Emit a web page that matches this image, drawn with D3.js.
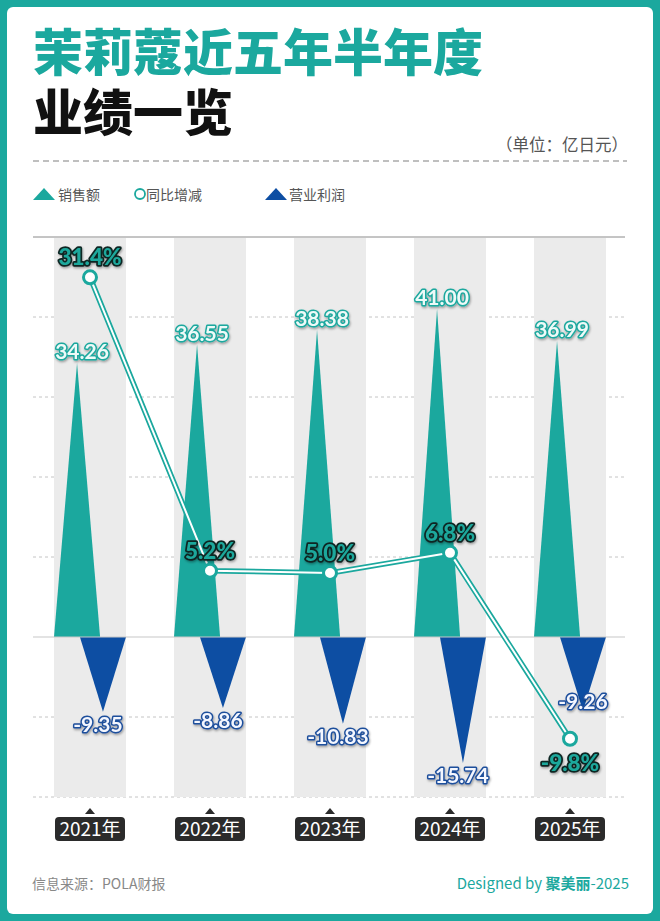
<!DOCTYPE html>
<html><head><meta charset="utf-8">
<script src="https://cdn.jsdelivr.net/npm/d3@7"></script>
<style>body{margin:0;background:#fff}</style>
</head><body><svg id="c" width="660" height="921"></svg>
<script>
const years = ["2021年","2022年","2023年","2024年","2025年"];
const sales = [34.26, 36.55, 38.38, 41.00, 36.99];
const profit = [-9.35, -8.86, -10.83, -15.74, -9.26];
const yoy = [31.4, 5.2, 5.0, 6.8, -9.8];
const valueTicks = [-20, -10, 0, 10, 20, 30, 40, 50];
const legendItems = ["销售额", "同比增减", "营业利润"];

const TEAL = "#1ba89e", BLUE = "#0d4ea3", CJK = "'Noto Sans CJK SC','Noto Sans',sans-serif", NUM = "Lato,'Open Sans',sans-serif";
const TITLE = "'Liberation Sans','Noto Sans CJK SC',sans-serif";
const svg = d3.select("#c");
const defs = svg.append("defs");
const f = defs.append("filter").attr("id","sh").attr("x","-20%").attr("y","-30%").attr("width","140%").attr("height","170%");
f.append("feDropShadow").attr("dx",0.8).attr("dy",1.5).attr("stdDeviation",0.9).attr("flood-color","#000").attr("flood-opacity",0.35);

// frame
svg.append("rect").attr("width",660).attr("height",921).attr("fill",TEAL);
svg.append("rect").attr("x",7).attr("y",7).attr("width",646).attr("height",907).attr("rx",6).attr("fill","#fff");

// titles
svg.append("text").attr("x",33).attr("y",71).text("茉莉蔻近五年半年度")
  .attr("font-family",TITLE).attr("font-weight",900).attr("font-size",50).attr("fill",TEAL);
svg.append("text").attr("x",33).attr("y",131).text("业绩一览")
  .attr("font-family",TITLE).attr("font-weight",900).attr("font-size",50).attr("fill","#111");
svg.append("text").attr("x",628).attr("y",151).attr("text-anchor","end").text("（单位：亿日元）")
  .attr("font-family",CJK).attr("font-size",16.5).attr("fill","#555");
svg.append("line").attr("x1",33).attr("x2",627).attr("y1",161).attr("y2",161)
  .attr("stroke","#aaa").attr("stroke-width",1.5).attr("stroke-dasharray","6,4");

// legend
const lg = svg.append("g").attr("font-family",CJK).attr("font-size",14).attr("fill","#555");
lg.append("path").attr("d","M33,200 L44,188 L55,200 Z").attr("fill",TEAL);
lg.append("text").attr("x",58).attr("y",200).text(legendItems[0]);
lg.append("circle").attr("cx",140).attr("cy",194).attr("r",5).attr("fill","#fff").attr("stroke",TEAL).attr("stroke-width",1.8);
lg.append("text").attr("x",146).attr("y",200).text(legendItems[1]);
lg.append("path").attr("d","M265,200 L276,188 L287,200 Z").attr("fill",BLUE);
lg.append("text").attr("x",289).attr("y",200).text(legendItems[2]);

// scales
const x = d3.scaleBand().domain(years).range([30,630]).paddingInner(0.4).paddingOuter(0.2);
const y = d3.scaleLinear().domain([-20,50]).range([797,237]);
const yp = d3.scaleLinear().domain([-15,35]).range([797,237]);
const bw = x.bandwidth(), tw = bw*0.64;

// grid
const g = svg.append("g");
g.selectAll("line.grid").data(valueTicks.filter(t=>t!==0)).join("line")
  .attr("x1",33).attr("x2",625).attr("y1",d=>y(d)).attr("y2",d=>y(d))
  .attr("stroke",d=>d===50?"#8a8a8a":"#c4c4c4").attr("stroke-width",1)
  .attr("stroke-dasharray",d=>d===50?null:"3,3");

// bands
g.selectAll("rect.band").data(years).join("rect")
  .attr("x",d=>x(d)).attr("width",bw).attr("y",y(50)+1).attr("height",y(-20)-y(50)-1).attr("fill","#ebebeb");

// sales triangles
g.selectAll("path.sales").data(sales).join("path")
  .attr("d",(d,i)=>{const x0=x(years[i]);return `M${x0},${y(0)} L${x0+tw/2},${y(d)} L${x0+tw},${y(0)} Z`;})
  .attr("fill",TEAL);
// profit triangles
g.selectAll("path.profit").data(profit).join("path")
  .attr("d",(d,i)=>{const x1=x(years[i])+bw;return `M${x1-tw},${y(0)} L${x1-tw/2},${y(d)} L${x1},${y(0)} Z`;})
  .attr("fill",BLUE);
// zero line
g.append("line").attr("x1",33).attr("x2",625).attr("y1",y(0)).attr("y2",y(0)).attr("stroke","#c8c8c8").attr("stroke-width",1.2);

// sales labels
g.selectAll("text.sl").data(sales).join("text")
  .attr("x",(d,i)=>x(years[i])+tw/2+5).attr("y",d=>y(d)-4).attr("text-anchor","middle")
  .text(d=>d.toFixed(2)).attr("font-family",NUM).attr("font-weight",700).attr("font-size",21)
  .attr("fill","#eefaf8").attr("stroke",TEAL).attr("stroke-width",3).attr("paint-order","stroke")
  .attr("stroke-linejoin","round").attr("filter","url(#sh)");

// profit labels
g.selectAll("text.pl").data(profit).join("text")
  .attr("x",(d,i)=>{const c=x(years[i])+bw-tw/2;return yoy[i]<0?c:c-5;})
  .attr("y",(d,i)=>yoy[i]<0?y(d)-2:y(d)+20).attr("text-anchor","middle")
  .text(d=>d.toFixed(2)).attr("font-family",NUM).attr("font-weight",700).attr("font-size",21)
  .attr("fill","#f4f7ff").attr("stroke","#1f4f9c").attr("stroke-width",3).attr("paint-order","stroke")
  .attr("stroke-linejoin","round").attr("filter","url(#sh)");

// yoy line
const line = d3.line().x((d,i)=>x(years[i])+bw/2).y(d=>yp(d));
g.append("path").datum(yoy).attr("d",line).attr("fill","none").attr("stroke",TEAL).attr("stroke-width",5.5).attr("stroke-linejoin","round");
g.append("path").datum(yoy).attr("d",line).attr("fill","none").attr("stroke","#fff").attr("stroke-width",2).attr("stroke-linejoin","round");
g.selectAll("circle.pt").data(yoy).join("circle")
  .attr("cx",(d,i)=>x(years[i])+bw/2).attr("cy",d=>yp(d)).attr("r",6.5)
  .attr("fill","#fff").attr("stroke",TEAL).attr("stroke-width",3);
g.selectAll("text.pct").data(yoy).join("text")
  .attr("x",(d,i)=>x(years[i])+bw/2).attr("y",d=>d<0?yp(d)+32:yp(d)-12).attr("text-anchor","middle")
  .text(d=>d.toFixed(1)+"%").attr("font-family",NUM).attr("font-weight",900).attr("font-size",22.5)
  .attr("fill","#1fa89c").attr("stroke","#0f2624").attr("stroke-width",3.5).attr("paint-order","stroke")
  .attr("stroke-linejoin","round").attr("filter","url(#sh)");

// x axis labels
const ax = svg.append("g");
years.forEach(yr=>{
  const c = x(yr)+bw/2;
  ax.append("path").attr("d",`M${c-5},814 L${c},808 L${c+5},814 Z`).attr("fill","#2b2b2b");
  ax.append("rect").attr("x",x(yr)+1).attr("y",817).attr("width",bw-2).attr("height",24).attr("rx",4).attr("fill","#2b2b2b");
  ax.append("text").attr("x",c).attr("y",836).attr("text-anchor","middle").text(yr)
    .attr("font-family",CJK).attr("font-size",19).attr("fill","#fff");
});

// footer
svg.append("text").attr("x",32).attr("y",889).text("信息来源：POLA财报")
  .attr("font-family",CJK).attr("font-size",14).attr("fill","#888");
const ft = svg.append("text").attr("x",629).attr("y",889).attr("text-anchor","end")
  .attr("font-family",CJK).attr("font-size",15).attr("fill",TEAL);
ft.append("tspan").text("Designed by ");
ft.append("tspan").attr("font-weight",700).text("聚美丽");
ft.append("tspan").text("-2025");
</script></body></html>
